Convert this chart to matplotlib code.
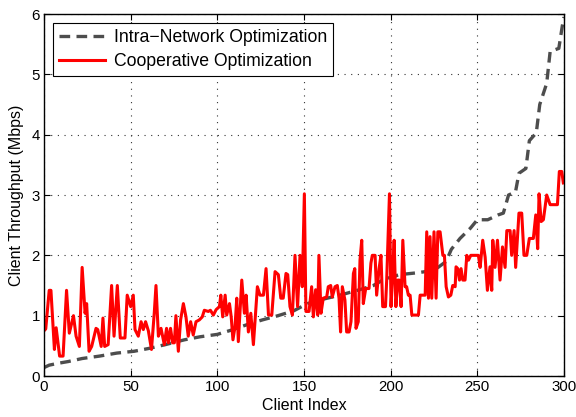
import matplotlib
matplotlib.use('Agg')
import matplotlib.pyplot as plt

plt.rcParams['font.family'] = ['Liberation Sans', 'DejaVu Sans']

# Intra-network optimization (sorted, dashed)
intra_x = [0, 3, 8, 14, 22, 32, 42, 52, 61, 70, 81, 90, 100, 108, 117, 126, 135,
           144, 152, 162, 172, 182, 190, 196, 205, 215, 225, 232, 235, 240, 246,
           250, 256, 262, 265, 268, 272, 274, 278, 280, 284, 286, 290, 292, 297,
           299, 300]
intra_y = [0.14, 0.18, 0.21, 0.24, 0.29, 0.33, 0.38, 0.41, 0.46, 0.52, 0.60, 0.65,
           0.69, 0.76, 0.85, 0.93, 1.00, 1.08, 1.20, 1.28, 1.35, 1.43, 1.50, 1.60,
           1.68, 1.71, 1.75, 1.90, 2.10, 2.28, 2.45, 2.59, 2.59, 2.67, 2.70, 3.00,
           3.05, 3.36, 3.44, 3.90, 4.03, 4.50, 4.85, 5.38, 5.43, 5.80, 5.95]

# Cooperative optimization (noisy, red)
coop_x = [0, 1, 3, 4, 6, 7, 9, 11, 13, 14.6, 17, 18.5, 20.4, 22, 23.7, 24.6, 26,
          27.5, 30, 31, 33, 34, 35, 37, 39, 40.4, 42.3, 44, 46.7, 48, 50, 51.5,
          52.5, 54.4, 56, 57.3, 58.6, 60.2, 62, 63.6, 64.6, 66, 67.5, 69.4, 70.7,
          71.7, 73, 74.2, 75.2, 76.1, 77.5, 78.8, 80.4, 81.9, 83.2, 84.6, 86.1,
          87.7, 89.6, 91.3, 92.5, 94.8, 96, 97.7, 99.3, 101.2, 102, 103.1, 104.5,
          105.4, 107, 108, 109, 110.2, 111.2, 112.1, 114.1, 115.6, 116.6, 117.9,
          119.3, 120.8, 123.1, 124.6, 126.6, 128.1, 129.5, 131.4, 133.3, 135.2,
          136.6, 138, 139.6, 140.6, 141.9, 143.3, 144.8, 146.3, 147.7, 149, 150.2,
          151.1, 152.9, 154.4, 155.4, 156.7, 157.9, 158.6, 159.8, 161.1, 163.1,
          164, 165.4, 166.3, 167.9, 169.2, 170.2, 171.1, 172.1, 173.6, 174.6, 176,
          177.1, 178.5, 179.3, 180, 181.3, 182.3, 183.3, 184.2, 185.6, 187.5,
          188.6, 189.4, 191, 191.9, 193.3, 194.4, 195.4, 197, 197.7, 199.3, 200.2,
          201, 202, 203, 204.1, 205, 206, 207, 208.3, 209.2, 210.2, 211.2, 212.2,
          216, 217, 219.9, 220.8, 221.8, 222.7, 223.7, 225, 226.2, 227.2, 228.5,
          230.1, 231, 232, 233.3, 234.7, 235.8, 237.2, 237.7, 238.7, 239.7, 240.6,
          241.6, 242.9, 243.9, 244.9, 246.2, 247.7, 250.6, 251.6, 253.1, 254.5,
          255.8, 257.3, 258.3, 258.9, 260.2, 261.6, 263.1, 264.5, 266, 267, 268.9,
          269.8, 271.2, 272.1, 274, 275.6, 276.9, 278.5, 280, 282.3, 283.7, 284.8,
          285.6, 286.8, 288.1, 290, 292, 294.8, 296.2, 297.3, 298.7, 299.6]
coop_y = [0.75, 0.78, 1.42, 1.42, 0.44, 0.80, 0.33, 0.33, 1.42, 0.71, 1.00, 0.66,
          0.49, 1.80, 1.04, 1.20, 0.41, 0.49, 0.79, 0.77, 0.49, 0.96, 0.49, 0.52,
          1.50, 0.66, 1.50, 0.63, 0.63, 1.34, 1.15, 1.34, 0.77, 0.66, 0.90, 0.77,
          0.90, 0.75, 0.44, 1.04, 1.50, 0.66, 0.79, 0.52, 0.79, 0.55, 0.79, 0.55,
          0.55, 1.00, 0.41, 0.93, 1.20, 0.98, 0.66, 0.90, 0.68, 0.90, 0.93, 0.98,
          1.09, 1.07, 1.09, 1.01, 1.10, 1.15, 1.34, 0.98, 1.34, 1.01, 1.20, 0.98,
          0.60, 0.82, 1.29, 0.57, 1.59, 1.04, 1.34, 0.73, 1.04, 0.52, 1.48, 1.34,
          1.34, 1.78, 1.01, 1.01, 1.73, 1.68, 1.29, 1.29, 1.70, 1.68, 1.15, 1.01,
          2.00, 1.15, 2.00, 1.48, 3.02, 1.07, 1.07, 1.48, 0.98, 1.43, 1.01, 2.00,
          1.04, 1.29, 1.31, 1.48, 1.50, 1.31, 1.48, 1.50, 1.29, 0.73, 1.48, 1.26,
          0.73, 0.73, 0.90, 1.70, 1.78, 0.79, 0.90, 1.92, 2.25, 1.20, 1.45, 1.45,
          1.87, 2.00, 2.00, 1.34, 1.78, 2.00, 1.15, 1.15, 1.59, 3.02, 1.15, 1.59,
          2.25, 1.15, 1.59, 1.59, 1.15, 2.25, 1.48, 1.48, 1.34, 1.34, 1.01, 1.01,
          1.34, 1.34, 2.39, 1.29, 2.31, 1.29, 2.39, 1.29, 2.39, 2.39, 2.00, 2.00,
          1.48, 1.31, 1.34, 1.50, 1.48, 1.81, 1.78, 1.59, 1.78, 1.59, 1.59, 2.00,
          1.92, 2.00, 2.00, 2.00, 1.80, 2.25, 1.97, 1.42, 1.81, 1.42, 2.25, 1.80,
          2.25, 1.59, 2.14, 1.80, 2.41, 2.41, 2.00, 2.41, 1.80, 2.70, 2.70, 2.00,
          2.00, 2.28, 2.28, 2.67, 2.11, 3.02, 2.56, 2.59, 3.00, 2.84, 2.84, 2.84,
          3.39, 3.39, 3.20]

fig = plt.figure(figsize=(5.76, 4.17), dpi=100)
ax = fig.add_axes([0.0764, 0.0983, 0.9028, 0.8681])

ax.plot(intra_x, intra_y, color='#4d4d4d', linewidth=2.4, dashes=(3.2, 1.9),
        label='Intra\u2212Network Optimization')
ax.plot(coop_x, coop_y, color='red', linewidth=2.2, label='Cooperative Optimization')

ax.set_xlim(0, 300)
ax.set_ylim(0, 6)
ax.set_xticks([0, 50, 100, 150, 200, 250, 300])
ax.set_yticks([0, 1, 2, 3, 4, 5, 6])
ax.tick_params(direction='in', top=True, right=True, labelsize=10.8, length=4, pad=3)
ax.grid(True, linestyle=(0, (1, 5)), color='#333333', linewidth=0.8)
for s in ax.spines.values():
    s.set_linewidth(1.0)

ax.set_xlabel('Client Index', fontsize=11.5, labelpad=2.5)
ax.set_ylabel('Client Throughput (Mbps)', fontsize=11.5, labelpad=5)

leg = ax.legend(loc='upper left', fontsize=12.7, handlelength=2.6, fancybox=False,
                framealpha=1, edgecolor='black', borderaxespad=0.5,
                borderpad=0.35, labelspacing=0.4, handletextpad=0.5)
leg.get_frame().set_linewidth(0.8)

fig.savefig('out.png', dpi=100)
